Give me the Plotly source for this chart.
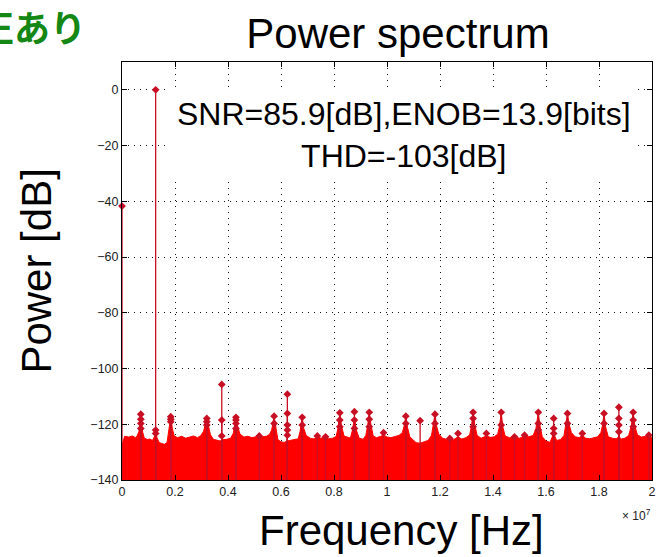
import plotly.graph_objects as go

# ---- spectrum data (frequency in MHz, power in dB) ----
# noise-floor envelope of the FFT bins
floor_mhz = [0.00, 0.03, 0.10, 0.25, 0.40, 0.50, 0.58, 0.64, 0.68, 0.71, 0.74, 0.78, 0.84,
             0.95, 1.05, 1.15, 1.22, 1.27, 1.32, 1.40, 1.50, 1.60, 1.70, 1.78, 1.84, 1.90,
             1.97, 2.10, 2.25, 2.40, 2.55, 2.70, 2.85, 2.98, 3.08, 3.14, 3.20, 3.26, 3.34,
             3.45, 3.58, 3.70, 3.80, 3.95, 4.10, 4.20, 4.26, 4.30, 4.36, 4.45, 4.60, 4.75,
             4.90, 5.05, 5.18, 5.30, 5.45, 5.57, 5.65, 5.74, 5.80, 5.88, 6.00, 6.12, 6.24,
             6.35, 6.50, 6.65, 6.72, 6.80, 6.86, 6.95, 7.10, 7.25, 7.37, 7.50, 7.68, 7.80,
             7.95, 8.08, 8.15, 8.22, 8.28, 8.38, 8.50, 8.62, 8.70, 8.77, 8.84, 8.95, 9.10,
             9.20, 9.27, 9.33, 9.39, 9.48, 9.60, 9.75, 9.87, 10.00, 10.15, 10.30, 10.45,
             10.58, 10.65, 10.71, 10.77, 10.86, 10.98, 11.10, 11.25, 11.40, 11.55, 11.68,
             11.75, 11.81, 11.87, 11.95, 12.10, 12.25, 12.37, 12.50, 12.68, 12.82, 12.98,
             13.12, 13.19, 13.25, 13.31, 13.40, 13.55, 13.75, 13.90, 14.05, 14.18, 14.25,
             14.31, 14.37, 14.46, 14.62, 14.81, 15.00, 15.19, 15.35, 15.52, 15.62, 15.71,
             15.77, 15.86, 16.00, 16.15, 16.29, 16.40, 16.55, 16.68, 16.75, 16.81, 16.87,
             16.96, 17.10, 17.25, 17.37, 17.50, 17.65, 17.80, 17.95, 18.07, 18.13, 18.19,
             18.25, 18.35, 18.50, 18.65, 18.75, 18.85, 18.98, 19.12, 19.22, 19.29, 19.35,
             19.45, 19.60, 19.75, 19.88, 20.00]
floor_db = [-127.0, -126.5, -124.3, -124.6, -124.2, -124.8, -124.0, -122.5, -119.5, -116.4,
            -119.8, -122.8, -124.9, -125.5, -125.3, -125.8, -124.5, -122.1, -124.8, -126.5,
            -126.9, -127.2, -126.5, -122.0, -117.3, -121.5, -124.2, -124.8, -124.3, -125.0,
            -124.6, -124.2, -124.8, -124.0, -122.5, -119.8, -117.9, -120.5, -123.8, -125.4,
            -125.8, -126.0, -125.5, -125.4, -125.0, -123.2, -120.0, -117.5, -120.5, -123.5,
            -124.6, -124.3, -124.8, -124.6, -124.2, -124.5, -124.3, -123.6, -122.0, -117.1,
            -121.5, -125.5, -126.3, -126.5, -126.0, -125.8, -125.6, -125.2, -122.5, -117.5,
            -121.5, -124.0, -125.0, -125.3, -124.2, -125.0, -124.5, -125.2, -125.0, -124.4,
            -121.5, -115.9, -120.5, -124.2, -124.6, -124.9, -122.0, -117.5, -122.0, -125.0,
            -125.4, -124.0, -120.5, -115.7, -120.0, -124.2, -124.8, -124.4, -123.8, -124.6,
            -124.8, -124.4, -124.0, -123.0, -120.5, -117.1, -121.0, -124.5, -125.6, -126.6,
            -126.8, -126.4, -125.8, -124.0, -120.5, -116.4, -120.5, -123.5, -125.0, -125.4,
            -125.2, -125.6, -124.5, -125.3, -124.8, -123.8, -120.5, -115.7, -120.0, -124.0,
            -125.0, -124.2, -124.7, -124.5, -123.5, -120.5, -115.7, -121.0, -124.2, -124.8,
            -124.6, -125.0, -124.2, -124.5, -124.0, -121.5, -115.7, -120.5, -124.5, -126.0,
            -126.5, -123.3, -125.8, -125.5, -124.0, -120.5, -116.1, -120.0, -123.0, -124.5,
            -124.8, -124.0, -125.0, -125.2, -124.9, -124.5, -123.0, -120.5, -116.1, -121.0,
            -124.5, -125.0, -125.2, -124.5, -125.3, -125.0, -124.0, -120.5, -115.7, -120.5,
            -123.8, -124.6, -124.3, -124.0, -124.8]

# individual bins drawn as stems with markers (DC, fundamental, spurs)
bin_mhz = [0.00, 1.27,
           0.71, 0.71, 0.71, 0.71,
           1.27, 1.27,
           1.84, 1.84, 1.84,
           3.20, 3.20, 3.20,
           3.765, 3.765, 3.765,
           4.30, 4.30, 4.30, 4.30,
           5.18,
           5.74, 5.74,
           6.24, 6.24, 6.24, 6.24, 6.24,
           6.80, 6.80,
           7.37, 7.68,
           8.22, 8.22, 8.22,
           8.77, 8.77, 8.77,
           9.33, 9.33, 9.33,
           9.87,
           10.71, 10.71,
           11.25,
           11.81, 11.81,
           12.37, 12.68,
           13.25, 13.25, 13.25,
           13.75,
           14.31, 14.31,
           14.81, 15.19,
           15.71, 15.71, 15.71,
           16.29, 16.29, 16.29,
           16.81, 16.81,
           17.37,
           18.19, 18.19,
           18.75, 18.75, 18.75, 18.75,
           19.29, 19.29, 19.29,
           19.88]
bin_db = [-41.7, 0.0,
          -116.4, -118.2, -119.7, -121.5,
          -122.1, -123.3,
          -117.3, -118.2, -119.1,
          -117.9, -119.1, -120.3,
          -105.7, -118.5, -124.2,
          -117.5, -118.5, -119.7, -121.5,
          -124.2,
          -117.1, -119.7,
          -109.2, -116.1, -120.3, -122.1, -123.9,
          -117.5, -120.3,
          -124.2, -124.5,
          -115.9, -118.5, -120.9,
          -115.5, -118.5, -121.5,
          -115.7, -118.2, -120.9,
          -123.0,
          -117.1, -119.7,
          -118.7,
          -116.4, -119.7,
          -125.1, -123.3,
          -115.7, -117.9, -120.9,
          -123.3,
          -115.7, -120.3,
          -124.5, -123.9,
          -115.7, -119.7, -122.1,
          -117.9, -121.5, -123.3,
          -116.1, -119.7,
          -123.3,
          -116.1, -119.7,
          -113.9, -117.9, -120.3, -122.7,
          -115.7, -118.5, -120.9,
          -123.9]

y_tick_vals = [-140, -120, -100, -80, -60, -40, -20, 0]
x_tick_labels = ["0", "0.2", "0.4", "0.6", "0.8", "1", "1.2", "1.4", "1.6", "1.8", "2"]
Y_BOTTOM = -140
Y_TOP = 10
MHZ = 1e6

floor_hz = [f * MHZ for f in floor_mhz]
bin_hz = [f * MHZ for f in bin_mhz]

# stems from the bottom of the axis up to each bin value
stem_x, stem_y = [], []
for f, v in zip(bin_hz, bin_db):
    stem_x += [f, f, None]
    stem_y += [Y_BOTTOM, v, None]

RED = "rgb(255,0,0)"
DARK_RED = "rgb(200,15,35)"

fig = go.Figure()
fig.add_trace(go.Scatter(x=floor_hz, y=[Y_BOTTOM] * len(floor_hz), mode="lines",
                         line=dict(width=0, color=RED), hoverinfo="skip", showlegend=False))
fig.add_trace(go.Scatter(x=floor_hz, y=floor_db, mode="lines", fill="tonexty",
                         fillcolor=RED, line=dict(width=1, color=RED), showlegend=False))
fig.add_trace(go.Scatter(x=stem_x, y=stem_y, mode="lines",
                         line=dict(width=1.3, color=DARK_RED), showlegend=False))
fig.add_trace(go.Scatter(x=bin_hz, y=bin_db, mode="markers", cliponaxis=False,
                         marker=dict(symbol="diamond", size=6, color=DARK_RED),
                         showlegend=False))

axis_common = dict(
    showline=True, linecolor="black", linewidth=1, mirror="ticks",
    ticks="inside", ticklen=5, tickcolor="black", tickwidth=1,
    showgrid=True, gridcolor="#111", gridwidth=1, griddash="1px,5px",
    zeroline=False,
    tickfont=dict(family="Liberation Sans, Arial", size=12.5, color="#222"),
)

fig.update_xaxes(range=[0, 2e7], tickmode="array",
                 tickvals=[i * 2e6 for i in range(len(x_tick_labels))],
                 ticktext=x_tick_labels, ticklabeloverflow="allow", **axis_common)
fig.update_yaxes(range=[Y_BOTTOM, Y_TOP], tickmode="array", tickvals=y_tick_vals,
                 **axis_common)

big = dict(family="Liberation Sans, Arial", size=42, color="black")

fig.update_layout(
    width=657, height=557,
    margin=dict(l=122, r=1, t=62, b=77),
    plot_bgcolor="white", paper_bgcolor="white",
    title=dict(text="Power spectrum", font=big, x=398 / 657, y=1 - 33 / 557,
               xref="container", yref="container", xanchor="center", yanchor="middle"),
    annotations=[
        dict(text="SNR=85.9[dB],ENOB=13.9[bits]<br>THD=-103[dB]", xref="paper", yref="paper",
             x=0.532, y=0.825, xanchor="center", yanchor="middle", showarrow=False,
             font=dict(family="Liberation Sans, Arial", size=32, color="black"),
             bgcolor="white", borderpad=7, borderwidth=0),
        dict(text="Frequency [Hz]", xref="paper", yref="paper", x=0.528, y=-0.12,
             xanchor="center", yanchor="middle", showarrow=False, font=big),
        dict(text="Power [dB]", xref="paper", yref="paper", x=-0.163, y=0.5,
             xanchor="center", yanchor="middle", textangle=-90, showarrow=False, font=big),
        dict(text="× 10<sup>7</sup>", xref="paper", yref="paper", x=0.97, y=-0.084,
             xanchor="center", yanchor="middle", showarrow=False,
             font=dict(family="Liberation Sans, Arial", size=12, color="#222")),
        dict(text="<b>補正あり</b>", xref="paper", yref="paper", x=-0.064, y=1.086,
             xanchor="right", yanchor="middle", showarrow=False,
             font=dict(family="Noto Sans CJK JP", size=36, color="rgb(20,135,20)")),
    ],
)

fig.write_html("out.html")
